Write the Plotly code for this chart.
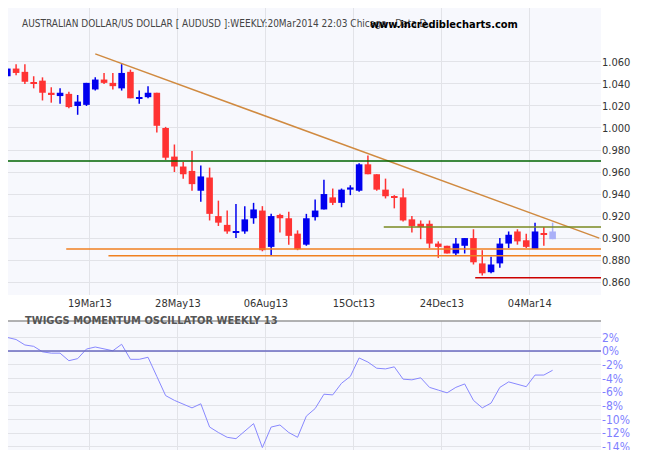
import plotly.graph_objects as go

# weekly candles, week index relative to the 22Mar13 bar
weeks = list(range(-10, 53))
opens = [1.047, 1.054, 1.051, 1.041, 1.043, 1.032, 1.029, 1.031, 1.020, 1.021,
         1.035, 1.044, 1.041, 1.036, 1.051, 1.027, 1.028, 1.032, 1.000, 0.974,
         0.965, 0.961, 0.943, 0.955, 0.920, 0.912, 0.905, 0.906, 0.918, 0.925,
         0.892, 0.921, 0.918, 0.904, 0.894, 0.919, 0.926, 0.937, 0.932, 0.944,
         0.943, 0.967, 0.958, 0.944, 0.938, 0.937, 0.917, 0.913, 0.913, 0.895,
         0.893, 0.886, 0.893, 0.900, 0.877, 0.869, 0.877, 0.895, 0.906, 0.898,
         0.890, 0.904, 0.899]
highs = [1.055, 1.058, 1.058, 1.047, 1.046, 1.037, 1.036, 1.033, 1.030, 1.041,
         1.046, 1.050, 1.050, 1.058, 1.053, 1.034, 1.038, 1.032, 1.001, 0.985,
         0.969, 0.979, 0.966, 0.964, 0.934, 0.925, 0.931, 0.929, 0.932, 0.929,
         0.922, 0.922, 0.924, 0.907, 0.922, 0.935, 0.953, 0.945, 0.945, 0.948,
         0.968, 0.975, 0.958, 0.954, 0.939, 0.945, 0.920, 0.916, 0.916, 0.897,
         0.893, 0.900, 0.900, 0.908, 0.889, 0.883, 0.900, 0.906, 0.908, 0.904,
         0.914, 0.910, 0.914]
lows = [1.046, 1.048, 1.040, 1.036, 1.025, 1.023, 1.022, 1.018, 1.012, 1.020,
        1.034, 1.040, 1.035, 1.034, 1.027, 1.022, 1.027, 0.996, 0.971, 0.960,
        0.954, 0.943, 0.933, 0.916, 0.911, 0.904, 0.900, 0.904, 0.913, 0.888,
        0.884, 0.905, 0.894, 0.889, 0.893, 0.916, 0.926, 0.930, 0.928, 0.939,
        0.942, 0.958, 0.943, 0.936, 0.927, 0.915, 0.905, 0.899, 0.891, 0.882,
        0.886, 0.884, 0.886, 0.876, 0.866, 0.868, 0.873, 0.891, 0.894, 0.891,
        0.890, 0.893, 0.899]
closes = [1.054, 1.050, 1.042, 1.040, 1.032, 1.030, 1.032, 1.019, 1.024, 1.041,
          1.044, 1.041, 1.038, 1.050, 1.027, 1.028, 1.032, 1.002, 0.973, 0.965,
          0.958, 0.949, 0.956, 0.922, 0.914, 0.906, 0.906, 0.917, 0.926, 0.889,
          0.920, 0.918, 0.902, 0.890, 0.918, 0.925, 0.940, 0.932, 0.944, 0.946,
          0.967, 0.958, 0.944, 0.938, 0.937, 0.916, 0.911, 0.910, 0.895, 0.892,
          0.886, 0.895, 0.900, 0.878, 0.868, 0.876, 0.895, 0.903, 0.897, 0.892,
          0.906, 0.903, 0.906]
# last bar is the unfinished week (drawn pale)
twiggs = [2.0, 1.7, 0.9, 0.7, -0.1, -0.3, -0.3, -1.4, -1.1, 0.3,
          0.6, 0.3, 0.05, 1.0, -1.2, -1.2, -0.9, -3.7, -6.5, -7.2,
          -7.8, -8.3, -7.7, -11.1, -11.9, -12.6, -12.8, -11.7, -10.6, -14.1,
          -11.1, -10.8, -11.9, -12.6, -9.5, -8.4, -6.3, -6.4, -4.7, -3.7,
          -1.0, -1.6, -2.5, -2.6, -2.3, -4.1, -4.2, -3.9, -5.3, -5.7,
          -6.1, -5.3, -4.8, -7.2, -8.3, -7.6, -5.3, -4.5, -4.8, -5.2,
          -3.5, -3.5, -2.8]

date_ticks = [-0.6, 9.4, 19.4, 29.4, 39.4, 49.4]
date_labels = ["19Mar13", "28May13", "06Aug13", "15Oct13", "24Dec13", "04Mar14"]
price_ticks = [0.860, 0.880, 0.900, 0.920, 0.940, 0.960, 0.980, 1.000, 1.020, 1.040, 1.060]
osc_ticks = [2, 0, -2, -4, -6, -8, -10, -12, -14]

# support/resistance lines: (start week, price, colour)
hlines = [(-10, 0.970, "#006400"), (32.8, 0.910, "#7a8a20"),
          (-3.3, 0.890, "#f08020"), (1.5, 0.884, "#f08020"), (43.2, 0.864, "#cc0000")]
trend_x = [0, 57.3]
trend_y = [1.0673, 0.900]

X0, X1 = -9.92, 57.5
FONT = "DejaVu Sans Condensed, Liberation Sans Narrow, Arial"

fig = go.Figure()


def add_candles(idx, color):
    xs = [weeks[i] for i in idx]
    base = [min(opens[i], closes[i]) for i in idx]
    h = [max(abs(closes[i] - opens[i]), 0.0009) for i in idx]
    fig.add_trace(go.Bar(x=xs, y=h, base=base, width=0.75, marker_color=color,
                         marker_line_width=0, xaxis="x", yaxis="y", hoverinfo="skip"))
    wx, wy = [], []
    for i in idx:
        wx += [weeks[i], weeks[i], None]
        wy += [lows[i], highs[i], None]
    fig.add_trace(go.Scatter(x=wx, y=wy, mode="lines", line=dict(color=color, width=1.5),
                             xaxis="x", yaxis="y", hoverinfo="skip"))


n = len(weeks)
up = [i for i in range(n - 1) if closes[i] >= opens[i]]
down = [i for i in range(n - 1) if closes[i] < opens[i]]
add_candles(up, "#0000ee")
add_candles(down, "#ff3333")
add_candles([n - 1], "#aab0f8")

for x0, p, c in hlines:
    fig.add_shape(type="line", x0=x0, x1=X1, y0=p, y1=p, xref="x", yref="y",
                  line=dict(color=c, width=1.5))
fig.add_trace(go.Scatter(x=trend_x, y=trend_y, mode="lines",
                         line=dict(color="#d08a40", width=1.5), hoverinfo="skip"))

fig.add_trace(go.Scatter(x=weeks, y=twiggs, mode="lines", xaxis="x2", yaxis="y2",
                         line=dict(color="#8888ff", width=1), hoverinfo="skip"))
fig.add_shape(type="line", x0=X0, x1=X1, y0=0, y1=0, xref="x2", yref="y2",
              line=dict(color="#6a6ac0", width=1.5))

grid = "#e2e3e8"
fig.update_layout(
    width=650, height=450, showlegend=False, barmode="overlay",
    margin=dict(l=0, r=57, t=0, b=0, pad=0, autoexpand=False),
    paper_bgcolor="white", plot_bgcolor="#f7f8fd",
    font=dict(family=FONT, size=11, color="#333"),
    xaxis=dict(range=[X0, X1], tickvals=date_ticks, ticktext=date_labels, automargin=False,
               showgrid=True, gridcolor=grid, zeroline=False, ticks="",
               tickfont=dict(size=11, color="#333")),
    yaxis=dict(domain=[0.362, 1.0], range=[0.8482, 1.109], side="right", automargin=False,
               tickvals=price_ticks, ticktext=["%.3f" % v for v in price_ticks],
               showgrid=True, gridcolor=grid, zeroline=False,
               tickfont=dict(size=11, color="#333")),
    xaxis2=dict(range=[X0, X1], anchor="y2", tickvals=date_ticks, showticklabels=False,
                automargin=False, showgrid=True, gridcolor=grid, zeroline=False, showline=False),
    yaxis2=dict(domain=[0.0156, 0.3044], range=[-14.6, 4.4], side="right", anchor="x2",
                automargin=False, tickvals=osc_ticks, ticktext=["%d%%" % v for v in osc_ticks],
                showgrid=True, gridcolor=grid, zeroline=False,
                tickfont=dict(size=12, color="#8080ff")),
)
fig.add_shape(type="line", xref="paper", yref="paper", x0=0, x1=1, y0=0.3044, y1=0.3044,
              line=dict(color="#999", width=1.5))
fig.add_annotation(text="AUSTRALIAN DOLLAR/US DOLLAR [ AUDUSD ]:WEEKLY:20Mar2014 22:03 Chicago : Data D..",
                   xref="paper", yref="paper", x=12 / 593, y=1 - 8 / 450, xanchor="left",
                   showarrow=False, font=dict(size=10, color="#444"))
fig.add_annotation(text="<b>www.incrediblecharts.com</b>", xref="paper", yref="paper",
                   x=512 / 593, y=1 - 8 / 450, xanchor="right", showarrow=False,
                   font=dict(size=11, color="black"))
fig.add_annotation(text="<b>TWIGGS MOMENTUM OSCILLATOR WEEKLY 13</b>", xref="paper", yref="paper",
                   x=15 / 593, y=1 - 321 / 450, xanchor="left", showarrow=False,
                   font=dict(size=11, color="#555"))

fig.write_html("out.html")
